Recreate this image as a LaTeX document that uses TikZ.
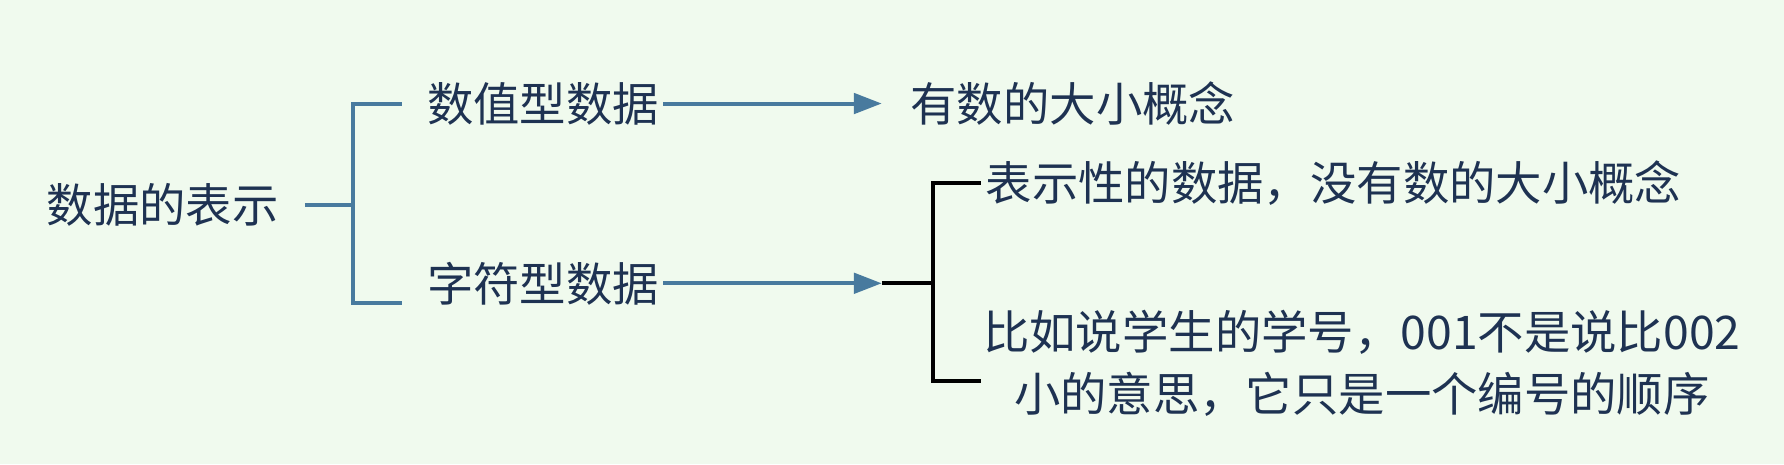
\documentclass[tikz,border=0pt]{standalone}
\usepackage{fontspec}
\setmainfont{Noto Sans CJK SC}
\usetikzlibrary{arrows.meta}
\definecolor{bg}{RGB}{240,250,238}
\definecolor{txt}{RGB}{30,50,82}
\definecolor{ln}{RGB}{72,122,158}
\tikzset{lbl/.style={text=txt,font=\fontsize{23.2}{31}\selectfont,inner sep=0pt},
blue/.style={draw=ln,line width=2pt},
arr/.style={blue,-{Triangle[length=14pt,width=14pt,angle'=40,open=false,fill=ln]}},
blk/.style={draw=black,line width=2.2pt}}
\begin{document}
\begin{tikzpicture}[x=0.02cm,y=-0.02cm]
\fill[bg] (0,0) rectangle (1568,408);
\useasboundingbox (0,0) rectangle (1568,408);
\node[lbl] (root) at (143,180) {数据的表示};
\node[lbl,anchor=west] (num) at (375,91) {数值型数据};
\node[lbl,anchor=west] (chr) at (375,249) {字符型数据};
\node[lbl,anchor=west] (n1) at (800,91) {有数的大小概念};
\node[lbl,anchor=west] (c1) at (866,161) {表示性的数据，没有数的大小概念};
\node[lbl,align=center] (c2) at (1197,319) {比如说学生的学号，001不是说比002\\小的意思，它只是一个编号的顺序};
\coordinate (s) at (268,180);
\coordinate (v) at (310,180);
\coordinate (a1) at (775,249);
\coordinate (b) at (820,249);
\draw[blue] (s) -- (v);
\draw[blue] (353,91) -- (310,91) -- (310,266) -- (353,266);
\draw[arr] (583,91) -- (775,91);
\draw[arr] (583,249) -- (a1);
\draw[blk] (a1) -- (b);
\draw[blk] (862,161) -- (820,161) -- (820,335) -- (862,335);
\end{tikzpicture}
\end{document}
